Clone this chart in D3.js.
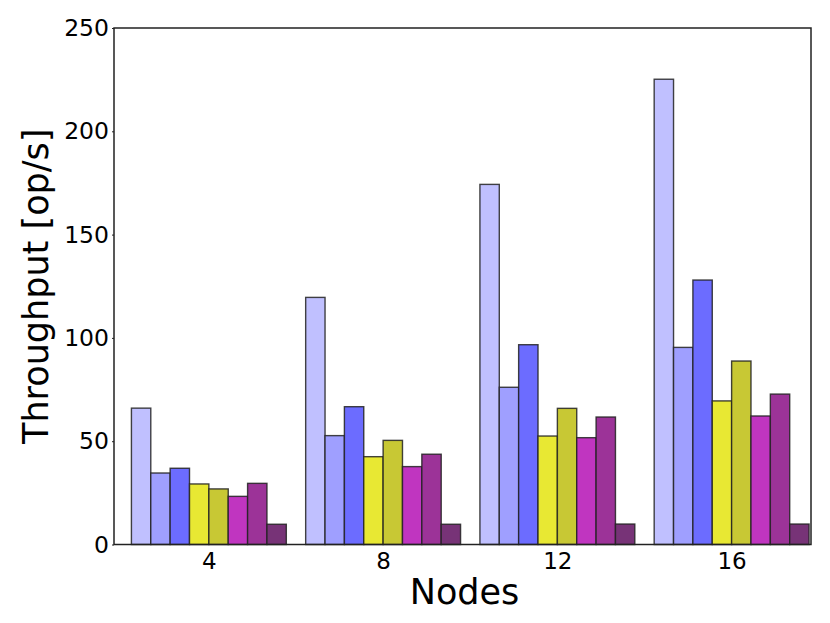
<!DOCTYPE html>
<html><head><meta charset="utf-8">
<script src="https://cdn.jsdelivr.net/npm/d3@7"></script>
<style>body{margin:0;background:#fff;}svg{display:block;font-family:"DejaVu Sans",sans-serif;}</style>
</head><body>
<script>
const categories = ["4", "8", "12", "16"];
const s1 = [66, 119.6, 174.3, 225.2];
const s2 = [34.6, 52.7, 76.1, 95.4];
const s3 = [36.9, 66.7, 96.7, 128.0];
const s4 = [29.3, 42.5, 52.5, 69.5];
const s5 = [26.9, 50.4, 65.9, 88.8];
const s6 = [23.3, 37.7, 51.7, 62.2];
const s7 = [29.6, 43.7, 61.7, 72.8];
const s8 = [9.8, 9.8, 9.9, 9.9];
const seriesValues = [s1, s2, s3, s4, s5, s6, s7, s8];
const seriesColors = ["#c0c0ff", "#9f9fff", "#6c6cff", "#e8e833", "#c8c834", "#c035c0", "#9c3398", "#773377"];
const yTicks = [0, 50, 100, 150, 200, 250];

const W = 830, H = 623;
const L = 114, R = 811, T = 28, B = 544.5;
const svg = d3.select("body").append("svg").attr("width", W).attr("height", H);

const nS = seriesValues.length;
const bw = 1 / 9;
const x = d3.scaleLinear().domain([-0.1, 3.9]).range([L, R]);
const y = d3.scaleLinear().domain([0, 250]).range([B, T]);

const g = svg.append("g");
seriesValues.forEach((vals, j) => {
  g.selectAll(null).data(vals).enter().append("rect")
    .attr("x", (d, i) => x(i + j * bw))
    .attr("width", x(bw) - x(0))
    .attr("y", d => y(d))
    .attr("height", d => y(0) - y(d))
    .attr("fill", seriesColors[j])
    .attr("stroke", "#222")
    .attr("stroke-opacity", 0.85)
    .attr("stroke-width", 1.4);
});

// frame
svg.append("rect").attr("x", L).attr("y", T).attr("width", R - L).attr("height", B - T)
  .attr("fill", "none").attr("stroke", "#222").attr("stroke-width", 1.5);

// y axis
const yAxis = d3.axisLeft(y).tickValues(yTicks).tickSize(2).tickPadding(3).tickFormat(d3.format("d"));
const ya = svg.append("g").attr("transform", `translate(${L},0)`).call(yAxis);
ya.select(".domain").remove();
ya.selectAll("line").attr("stroke", "#222");
ya.selectAll("text").attr("font-size", 23.5).attr("fill", "#000").attr("font-family", "DejaVu Sans");

// x axis
const xAxis = d3.axisBottom(x).tickValues(categories.map((c, i) => i + (nS * bw) / 2))
  .tickFormat((d, i) => categories[i]).tickSize(0).tickPadding(8);
const xa = svg.append("g").attr("transform", `translate(0,${B})`).call(xAxis);
xa.select(".domain").remove();
xa.selectAll("text").attr("font-size", 23).attr("fill", "#000").attr("font-family", "DejaVu Sans");

svg.append("text").attr("x", (L + R) / 2 + 2).attr("y", 604).attr("text-anchor", "middle")
  .attr("font-size", 35).attr("fill", "#000").text("Nodes");
svg.append("text").attr("transform", `translate(48,${(T + B) / 2}) rotate(-90)`).attr("text-anchor", "middle")
  .attr("font-size", 35).attr("fill", "#000").text("Throughput [op/s]");
</script>
</body></html>
